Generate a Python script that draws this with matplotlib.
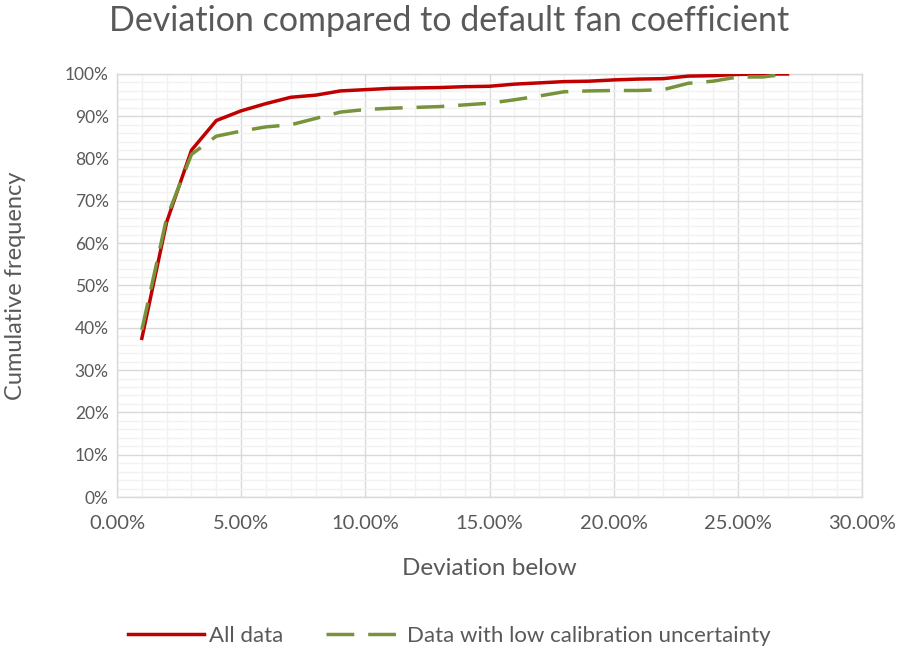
import matplotlib
matplotlib.use("Agg")
import matplotlib.pyplot as plt
from matplotlib.ticker import MultipleLocator, FuncFormatter

plt.rcParams['font.family'] = ['Lato', 'DejaVu Sans']

# deviation below (fraction) and cumulative frequencies
deviation = [0.01, 0.02, 0.03, 0.04, 0.05, 0.06, 0.07, 0.08, 0.09, 0.10,
             0.11, 0.12, 0.13, 0.14, 0.15, 0.16, 0.17, 0.18, 0.19, 0.20,
             0.21, 0.22, 0.23, 0.24, 0.25, 0.26, 0.27]
allData = [0.375, 0.65, 0.82, 0.89, 0.913, 0.930, 0.945, 0.950, 0.960, 0.963,
           0.966, 0.967, 0.968, 0.970, 0.971, 0.976, 0.979, 0.982, 0.983, 0.986,
           0.988, 0.989, 0.995, 0.996, 0.999, 1.0, 1.0]
lowUncert = [0.395, 0.66, 0.81, 0.853, 0.865, 0.875, 0.880, 0.895, 0.910, 0.916,
             0.919, 0.921, 0.923, 0.927, 0.931, 0.939, 0.948, 0.958, 0.960, 0.961,
             0.961, 0.963, 0.978, 0.983, 0.993, 0.993, 1.0]

grey = "#595959"

fig = plt.figure(figsize=(9.04, 6.52), dpi=100)
ax = fig.add_axes([117/904, 1-497/652, 745/904, 423/652])

ax.plot(deviation, allData, color="#C00000", lw=2.5, label="All data", zorder=3)
ax.plot(deviation, lowUncert, color="#77933C", lw=2.5, dashes=(8, 4),
        label="Data with low calibration uncertainty", zorder=3)

ax.set_xlim(0, 0.30)
ax.set_ylim(0, 1.0)
ax.xaxis.set_major_locator(MultipleLocator(0.05))
ax.xaxis.set_minor_locator(MultipleLocator(0.01))
ax.yaxis.set_major_locator(MultipleLocator(0.1))
ax.yaxis.set_minor_locator(MultipleLocator(0.02))
ax.xaxis.set_major_formatter(FuncFormatter(lambda v, p: "%.2f%%" % (v*100)))
ax.yaxis.set_major_formatter(FuncFormatter(lambda v, p: "%d%%" % round(v*100)))

ax.grid(which="major", color="#D9D9D9", lw=1.0, zorder=1)
ax.grid(which="minor", color="#F2F2F2", lw=1.0, zorder=0)
ax.set_axisbelow(True)
for s in ax.spines.values():
    s.set_color("#D9D9D9")
    s.set_linewidth(1.0)
ax.tick_params(which="both", length=0, colors=grey)
ax.tick_params(axis="x", pad=13, labelsize=14.5)
ax.tick_params(axis="y", pad=6, labelsize=12.5)

ax.set_xlabel("Deviation below", fontsize=17.5, color=grey, labelpad=19)
ax.set_ylabel("Cumulative frequency", fontsize=17, color=grey, labelpad=28)
fig.text(0.497, 0.968, "Deviation compared to default fan coefficient",
         ha="center", va="center", fontsize=24.5, color=grey)

leg = fig.legend(loc="center", bbox_to_anchor=(0.497, 1-636/652), ncol=2,
                 frameon=False, fontsize=16, handlelength=3.4, handletextpad=0.25,
                 columnspacing=1.9, labelcolor=grey)

fig.savefig("out.png", dpi=100)
